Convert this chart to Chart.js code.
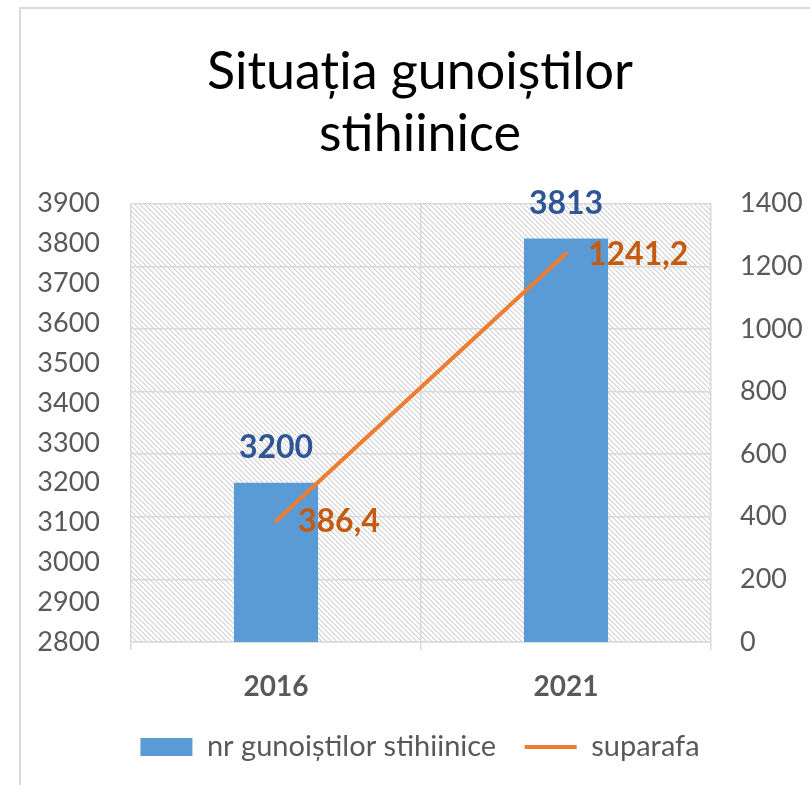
<!doctype html>
<html lang="ro">
  <head>
    <meta charset="utf-8">
    <title>Situația gunoiștilor stihiinice</title>
    <script src="https://cdn.jsdelivr.net/npm/chart.js"></script>
    <style>
      html, body { margin: 0; padding: 0; background: #fff; }
      #wrap { width: 810px; height: 785px; }
    </style>
  </head>
  <body>
    <div id="wrap">
      <canvas id="myChart" width="810" height="785"></canvas>
    </div>
    <script>
        // data
        const years = ['2016', '2021'];
        const dumpCounts = [3200, 3813];
        const dumpArea = [386.4, 1241.2];
        const countLabel = 'nr gunoiștilor stihiinice';
        const areaLabel = 'suparafa';
        const titleLines = ['Situația gunoiștilor', 'stihiinice'];

        const FONT = 'Lato';
        const gridGray = '#d9d9d9';
        const tickGray = '#595959';

        // hatched fill for the plot area
        function makeHatch() {
            const c = document.createElement('canvas');
            c.width = 5; c.height = 5;
            const g = c.getContext('2d');
            g.fillStyle = '#ffffff';
            g.fillRect(0, 0, 5, 5);
            for (let i = 0; i < 5; i++) {
                g.fillStyle = '#d2d2d2';
                g.fillRect(i, i, 1, 1);
                g.fillStyle = '#ebebeb';
                g.fillRect((i + 1) % 5, i, 1, 1);
            }
            return c;
        }

        const backdrop = {
            id: 'backdrop',
            beforeDraw(chart) {
                const {ctx, chartArea: a} = chart;
                ctx.save();
                ctx.fillStyle = '#fff';
                ctx.fillRect(0, 0, chart.width, chart.height);
                // outer frame (top and left edges are visible)
                ctx.strokeStyle = gridGray;
                ctx.lineWidth = 2;
                ctx.beginPath();
                ctx.moveTo(20, chart.height);
                ctx.lineTo(20, 8);
                ctx.lineTo(chart.width, 8);
                ctx.stroke();
                ctx.fillStyle = ctx.createPattern(makeHatch(), 'repeat');
                ctx.fillRect(a.left, a.top, a.right - a.left, a.bottom - a.top);
                ctx.restore();
            }
        };

        const valueLabels = {
            id: 'valueLabels',
            afterDatasetsDraw(chart) {
                const ctx = chart.ctx;
                ctx.save();
                ctx.font = 'bold 32px ' + FONT;
                ctx.textBaseline = 'middle';
                const bars = chart.getDatasetMeta(0).data;
                ctx.fillStyle = '#2f5597';
                ctx.textAlign = 'center';
                bars.forEach((b, i) => {
                    ctx.fillText(String(dumpCounts[i]), b.x, b.y - 35);
                });
                const pts = chart.getDatasetMeta(1).data;
                ctx.fillStyle = '#c55a11';
                ctx.textAlign = 'left';
                pts.forEach((p, i) => {
                    ctx.fillText(String(dumpArea[i]).replace('.', ','), p.x + 22, p.y + 1);
                });
                ctx.restore();
            }
        };

        const data = {
            labels: years,
            datasets: [
                {
                    type: 'bar',
                    label: countLabel,
                    data: dumpCounts,
                    backgroundColor: '#5b9bd5',
                    yAxisID: 'y',
                    barPercentage: 0.29,
                    categoryPercentage: 1,
                    order: 1
                },
                {
                    type: 'line',
                    label: areaLabel,
                    data: dumpArea,
                    borderColor: '#ed7d31',
                    backgroundColor: '#ed7d31',
                    borderWidth: 4,
                    pointRadius: 0,
                    borderCapStyle: 'round',
                    yAxisID: 'y1',
                    order: 0
                }
            ]
        };

        const plain = v => String(v);

        const config = {
            type: 'bar',
            data,
            plugins: [backdrop, valueLabels],
            options: {
                responsive: false,
                animation: false,
                layout: { padding: { left: 30, right: 0, top: 0, bottom: 13.5 } },
                plugins: {
                    tooltip: { enabled: false },
                    title: {
                        display: true,
                        text: titleLines,
                        color: '#000',
                        font: { family: FONT, size: 52, weight: 'normal', lineHeight: 1.19 },
                        padding: { top: 41, bottom: 39 }
                    },
                    legend: {
                        position: 'bottom',
                        labels: {
                            color: tickGray,
                            font: { family: FONT, size: 29 },
                            usePointStyle: true,
                            pointStyleWidth: 52,
                            boxHeight: 18,
                            padding: 28.5,
                            sort: (a, b) => a.datasetIndex - b.datasetIndex,
                            generateLabels(chart) {
                                const items = Chart.defaults.plugins.legend.labels.generateLabels(chart);
                                items.forEach(it => {
                                    it.pointStyle = it.datasetIndex === 0 ? 'rect' : 'line';
                                });
                                return items;
                            }
                        }
                    }
                },
                scales: {
                    x: {
                        grid: { display: true, color: gridGray, lineWidth: 1.5, offset: true, tickLength: 8 },
                        border: { display: true, color: gridGray, width: 1.5 },
                        ticks: { color: tickGray, font: { family: FONT, size: 28, weight: 'bold' }, padding: 20 },
                        afterFit(s) { s.height = 62; }
                    },
                    y: {
                        position: 'left',
                        min: 2800,
                        max: 3900,
                        ticks: { stepSize: 100, color: tickGray, font: { family: FONT, size: 27 }, padding: 31, callback: plain },
                        grid: { display: false, drawTicks: false },
                        border: { display: false },
                        afterFit(s) { s.width = 101; }
                    },
                    y1: {
                        position: 'right',
                        min: 0,
                        max: 1400,
                        ticks: { stepSize: 200, color: tickGray, font: { family: FONT, size: 27 }, padding: 29, callback: plain },
                        grid: { display: true, color: gridGray, lineWidth: 1.5, drawTicks: false },
                        border: { display: false },
                        afterFit(s) { s.width = 99; }
                    }
                }
            }
        };

        const myChart = new Chart(document.getElementById('myChart'), config);
    </script>
  </body>
</html>
